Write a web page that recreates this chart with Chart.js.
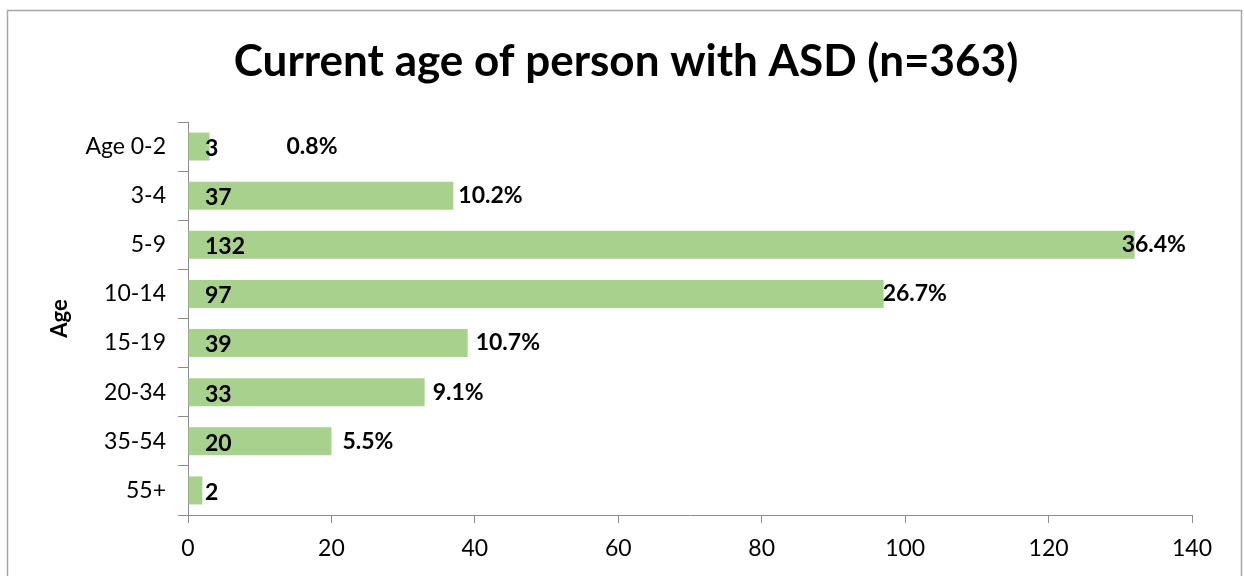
<!DOCTYPE html>
<html>
<head>
<meta charset="utf-8">
<script src="https://cdn.jsdelivr.net/npm/chart.js@4/dist/chart.umd.min.js"></script>
<style>
  html, body { margin: 0; padding: 0; background: #fff; }
  #wrap { width: 1244px; height: 576px; }
</style>
</head>
<body>
<div id="wrap"><canvas id="myChart" width="1244" height="576"></canvas></div>
<script>
var chartTitle = 'Current age of person with ASD (n=363)';
var ageGroups = ['Age 0-2', '3-4', '5-9', '10-14', '15-19', '20-34', '35-54', '55+'];
var counts = [3, 37, 132, 97, 39, 33, 20, 2];
var percentLabels = ['0.8%', '10.2%', '36.4%', '26.7%', '10.7%', '9.1%', '5.5%', ''];
var xTicks = [0, 20, 40, 60, 80, 100, 120, 140];

var FONT = 'Lato, "Open Sans", sans-serif';
// horizontal shift of each percent label from the bar end (px)
var pctShift = [77, 5, -13, -1, 8, 8, 11, 5];

var frame = {
    id: 'frame',
    beforeDraw: function (chart) {
        var c = chart.ctx;
        c.save();
        c.fillStyle = '#fff';
        c.fillRect(0, 0, chart.width, chart.height);
        c.strokeStyle = '#a6a6a6';
        c.lineWidth = 1.5;
        c.strokeRect(7.5, 10.5, 1234, 620);
        // title, centred on the whole frame
        c.fillStyle = '#000';
        c.font = 'bold 44px ' + FONT;
        c.textAlign = 'center';
        c.textBaseline = 'middle';
        c.fillText(chartTitle, 626, 62);
        c.restore();
    }
};

var barLabels = {
    id: 'barLabels',
    afterDatasetsDraw: function (chart) {
        var c = chart.ctx;
        var meta = chart.getDatasetMeta(0);
        c.save();
        c.fillStyle = '#000';
        c.font = 'bold 23px ' + FONT;
        c.textBaseline = 'middle';
        c.textAlign = 'left';
        meta.data.forEach(function (bar, i) {
            c.fillText(String(counts[i]), chart.chartArea.left + 17, bar.y + 2);
            if (percentLabels[i]) {
                c.fillText(percentLabels[i], bar.x + pctShift[i], bar.y);
            }
        });
        c.restore();
    }
};

var ctx = document.getElementById('myChart').getContext('2d');
var myChart = new Chart(ctx, {
    type: 'bar',
    data: {
        labels: ageGroups,
        datasets: [{
            data: counts,
            backgroundColor: '#a9d18e',
            borderWidth: 0,
            categoryPercentage: 1,
            barPercentage: 0.57
        }]
    },
    options: {
        indexAxis: 'y',
        responsive: false,
        animation: false,
        layout: { padding: { top: 122, right: 52, left: 0, bottom: 0 } },
        plugins: {
            legend: { display: false },
            tooltip: { enabled: false },
            title: { display: false }
        },
        scales: {
            x: {
                min: 0,
                max: 140,
                afterBuildTicks: function (scale) {
                    scale.ticks = xTicks.map(function (v) { return { value: v }; });
                },
                afterFit: function (scale) { scale.height = 61; },
                grid: {
                    drawOnChartArea: false,
                    drawTicks: true,
                    tickLength: 8,
                    color: '#8c8c8c'
                },
                border: { color: '#8c8c8c', width: 1 },
                ticks: {
                    color: '#000',
                    padding: 12,
                    font: { family: FONT, size: 23 }
                }
            },
            y: {
                afterFit: function (scale) { scale.width = 188; },
                grid: {
                    drawOnChartArea: false,
                    drawTicks: true,
                    tickLength: 10,
                    color: '#8c8c8c'
                },
                border: { color: '#8c8c8c', width: 1 },
                ticks: {
                    color: '#000',
                    padding: 12,
                    font: { family: FONT, size: 23 }
                },
                title: {
                    display: true,
                    text: 'Age',
                    color: '#000',
                    font: { family: FONT, size: 22, weight: 'bold' },
                    padding: { top: 47 }
                }
            }
        }
    },
    plugins: [frame, barLabels]
});
</script>
</body>
</html>
